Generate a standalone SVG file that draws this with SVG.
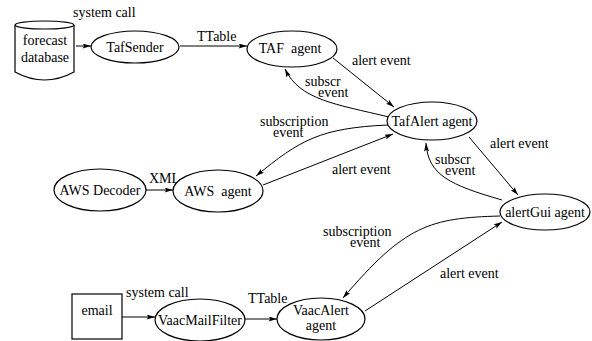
<svg xmlns="http://www.w3.org/2000/svg" width="592" height="341" viewBox="0 0 592 341" font-family="'Liberation Serif', 'DejaVu Serif', serif" font-size="14">
<defs>
<marker id="ah" viewBox="0 0 10 6" refX="10" refY="3" markerWidth="9" markerHeight="5" orient="auto" markerUnits="userSpaceOnUse"><path d="M0,0 L10,3 L0,6 L2,3 z" fill="#000"/></marker>
</defs>
<style>
text{font-family:'Liberation Serif','DejaVu Serif',serif;font-size:14px;fill:#000}
.n{fill:#fff;stroke:#000;stroke-width:1.2}
.c{text-anchor:middle}
#connectors path{fill:none;stroke:#000;stroke-width:1;marker-end:url(#ah)}
</style>
<rect width="592" height="341" fill="#fff"/>
<g id="connectors">
<path d="M76,46 L91,46"/>
<path d="M180,46 L247,46"/>
<path d="M333,58 L394,107"/>
<path d="M389,117 C335,104 300,100 285,69"/>
<path d="M388,125 C320,128 300,140 256,176"/>
<path d="M263,185 L393,134"/>
<path d="M469,137 L518,195"/>
<path d="M502,200 C450,185 428,175 426,143"/>
<path d="M500,216 C430,218 405,225 343,298"/>
<path d="M365,311 L502,222"/>
<path d="M146,190 L173,190"/>
<path d="M122,317 L155,317"/>
<path d="M245,319 L277,319"/>
</g>
<g id="labels">
<text x="73" y="17">system call</text>
<text x="197" y="41">TTable</text>
<text x="352" y="65">alert event</text>
<text x="305" y="86">subscr</text>
<text x="318" y="97">event</text>
<text x="260" y="126">subscription</text>
<text x="273" y="137">event</text>
<text x="332" y="174">alert event</text>
<text x="490" y="148">alert event</text>
<text x="435" y="164">subscr</text>
<text x="445" y="175">event</text>
<text x="323" y="236">subscription</text>
<text x="350" y="247">event</text>
<text x="440" y="278">alert event</text>
<text x="149" y="183">XML</text>
<text x="126" y="297">system call</text>
<text x="248" y="303">TTable</text>
</g>
<g id="forecast-database">
<path class="n" d="M15,25 L15,72 Q44.5,88 74,72 L74,25"/>
<ellipse class="n" cx="44.5" cy="25" rx="29.5" ry="4"/>
<text class="c" x="45" y="45">forecast</text>
<text class="c" x="45" y="62">database</text>
</g>
<g id="TafSender">
<ellipse class="n" cx="135" cy="47" rx="44" ry="16"/>
<text class="c" x="135" y="52">TafSender</text>
</g>
<g id="TAF-agent">
<ellipse class="n" cx="292" cy="49" rx="45" ry="18"/>
<text class="c" x="290" y="53" xml:space="preserve">TAF  agent</text>
</g>
<g id="TafAlert-agent">
<ellipse class="n" cx="432" cy="121" rx="45" ry="19"/>
<text class="c" x="432" y="126">TafAlert agent</text>
</g>
<g id="alertGui-agent">
<ellipse class="n" cx="545" cy="212" rx="45" ry="18"/>
<text class="c" x="545" y="217">alertGui agent</text>
</g>
<g id="AWS-Decoder">
<ellipse class="n" cx="100" cy="190" rx="46" ry="21"/>
<text class="c" x="100" y="195">AWS Decoder</text>
</g>
<g id="AWS-agent">
<ellipse class="n" cx="218" cy="191" rx="45" ry="21"/>
<text class="c" x="218" y="196" xml:space="preserve">AWS  agent</text>
</g>
<g id="email">
<rect class="n" x="72" y="294" width="50" height="45"/>
<text class="c" x="97" y="315">email</text>
</g>
<g id="VaacMailFilter">
<ellipse class="n" cx="200" cy="320" rx="45" ry="21"/>
<text class="c" x="200" y="325">VaacMailFilter</text>
</g>
<g id="VaacAlert-agent">
<ellipse class="n" cx="321" cy="319" rx="44" ry="21"/>
<text class="c" x="321" y="315">VaacAlert</text>
<text class="c" x="321" y="330">agent</text>
</g>
</svg>
